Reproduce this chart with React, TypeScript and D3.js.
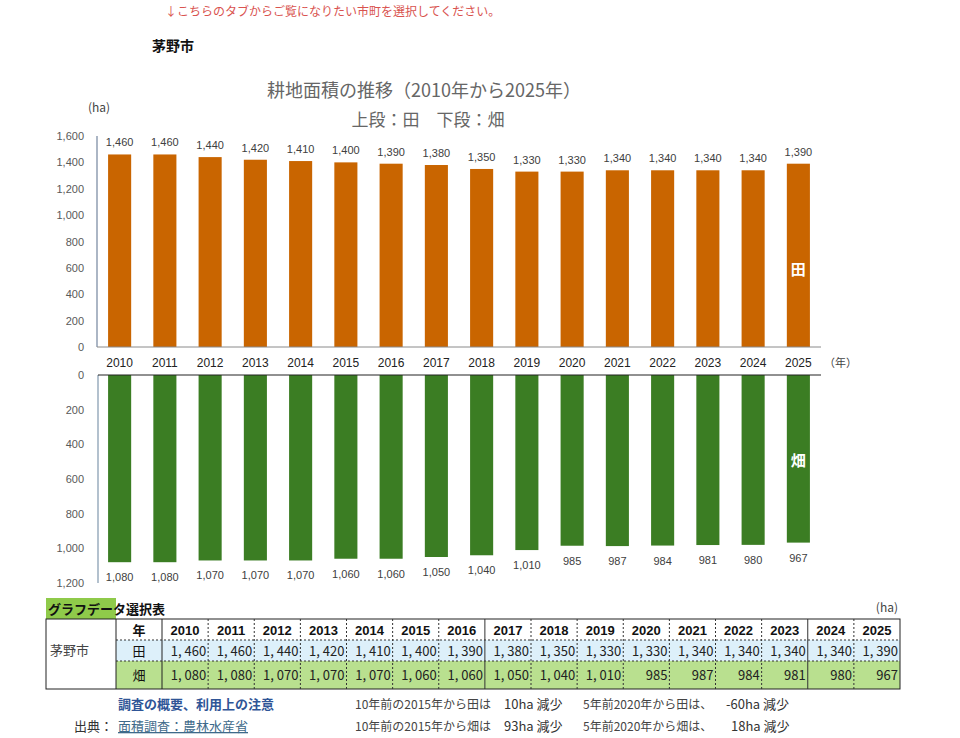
import * as d3 from 'd3';

const years = ['2010', '2011', '2012', '2013', '2014', '2015', '2016', '2017', '2018', '2019', '2020', '2021', '2022', '2023', '2024', '2025'];
const paddy = [1460, 1460, 1440, 1420, 1410, 1400, 1390, 1380, 1350, 1330, 1330, 1340, 1340, 1340, 1340, 1390];
const upland = [1080, 1080, 1070, 1070, 1070, 1060, 1060, 1050, 1040, 1010, 985, 987, 984, 981, 980, 967];
const topTicks = [0, 200, 400, 600, 800, 1000, 1200, 1400, 1600];
const bottomTicks = [0, 200, 400, 600, 800, 1000, 1200];

const W = 960;
const H = 738;
const JP = '"Noto Sans CJK JP", "Noto Sans", sans-serif';
const NUM = '"Liberation Sans", Arial, sans-serif';
const ORANGE = '#c96500';
const GREEN = '#3b7d23';

const fmt = d3.format(',');
// table style: full-width comma like the sheet
const fmtTable = (v: number) => (v >= 1000 ? d3.format(',')(v).replace(',', ', ') : String(v));

const App = () => {
    const x = d3.scaleBand().domain(years).range([97, 821]).paddingInner(0.49).paddingOuter(0.245);
    const yTop = d3.scaleLinear().domain([0, 1600]).range([347, 136]);
    const yBot = d3.scaleLinear().domain([0, 1200]).range([375, 583]);
    const col = d3.scaleBand().domain(years).range([162, 900]);

    return (
        <svg width={W} height={H} style={{ position: 'absolute', left: 0, top: 0, background: '#fff' }}>
            <text x={165} y={16} fontSize={12} fill="#d9534f" fontFamily={JP}>↓こちらのタブからご覧になりたい市町を選択してください。</text>
            <text x={152} y={51} fontSize={14} fontWeight="bold" fill="#111" fontFamily={JP}>茅野市</text>

            {/* titles */}
            <text x={424} y={97} fontSize={18} fill="#666" textAnchor="middle" fontFamily={JP}>耕地面積の推移（2010年から2025年）</text>
            <text x={428} y={126} fontSize={17} fill="#666" textAnchor="middle" fontFamily={JP}>上段：田　下段：畑</text>
            <text x={88} y={112} fontSize={12} fill="#444" fontFamily={JP}>(ha)</text>

            {/* upper chart: 田 */}
            {topTicks.map(t => (
                <text key={'tt' + t} x={84} y={yTop(t) + 4} fontSize={11} fill="#595959" textAnchor="end" fontFamily={NUM}>{fmt(t)}</text>
            ))}
            <line x1={97} x2={97} y1={136} y2={347} stroke="#7f8fa6" strokeWidth={1.3} />
            {years.map((yr, i) => (
                <g key={'p' + yr}>
                    <rect x={x(yr)} y={yTop(paddy[i])} width={x.bandwidth()} height={yTop(0) - yTop(paddy[i])} fill={ORANGE} />
                    <text x={(x(yr) || 0) + x.bandwidth() / 2} y={yTop(paddy[i]) - 8} fontSize={11} fill="#404040" textAnchor="middle" fontFamily={NUM}>{fmt(paddy[i])}</text>
                </g>
            ))}
            <line x1={97} x2={821} y1={347} y2={347} stroke="#8a8a8a" strokeWidth={1} />
            <text x={(x('2025') || 0) + x.bandwidth() / 2} y={275} fontSize={15} fontWeight="bold" fill="#fff" textAnchor="middle" fontFamily={JP}>田</text>

            {/* year labels */}
            {years.map(yr => (
                <text key={'yl' + yr} x={(x(yr) || 0) + x.bandwidth() / 2} y={367} fontSize={12} fill="#222" textAnchor="middle" fontFamily={NUM}>{yr}</text>
            ))}
            <text x={824} y={367} fontSize={11} fill="#444" fontFamily={JP}>（年）</text>

            {/* lower chart: 畑 */}
            {bottomTicks.map(t => (
                <text key={'bt' + t} x={84} y={yBot(t) + 4} fontSize={11} fill="#595959" textAnchor="end" fontFamily={NUM}>{fmt(t)}</text>
            ))}
            <line x1={98} x2={98} y1={375} y2={583} stroke="#8aa0b4" strokeWidth={1.3} />
            {years.map((yr, i) => (
                <g key={'u' + yr}>
                    <rect x={x(yr)} y={yBot(0)} width={x.bandwidth()} height={yBot(upland[i]) - yBot(0)} fill={GREEN} />
                    <text x={(x(yr) || 0) + x.bandwidth() / 2} y={yBot(upland[i]) + 19} fontSize={11} fill="#404040" textAnchor="middle" fontFamily={NUM}>{fmt(upland[i])}</text>
                </g>
            ))}
            <line x1={98} x2={821} y1={375} y2={375} stroke="#222" strokeWidth={1} />
            <text x={(x('2025') || 0) + x.bandwidth() / 2} y={466} fontSize={15} fontWeight="bold" fill="#fff" textAnchor="middle" fontFamily={JP}>畑</text>

            {/* data table */}
            <rect x={46} y={598} width={70} height={21} fill="#8fca4a" />
            <text x={48} y={614} fontSize={13} fontWeight="bold" fill="#111" fontFamily={JP}>グラフデータ選択表</text>
            <text x={898} y={612} fontSize={12} fill="#444" textAnchor="end" fontFamily={JP}>(ha)</text>

            <rect x={116} y={640} width={784} height={21} fill="#ddf0fa" />
            <rect x={116} y={661} width={784} height={28} fill="#b9e08f" />
            <rect x={46} y={619} width={854} height={70} fill="none" stroke="#222" strokeWidth={1} />
            <line x1={116} x2={116} y1={619} y2={689} stroke="#222" />
            <line x1={162} x2={162} y1={619} y2={689} stroke="#222" />
            <line x1={116} x2={900} y1={640} y2={640} stroke="#333" strokeDasharray="2,2" />
            <line x1={116} x2={900} y1={661} y2={661} stroke="#333" strokeDasharray="2,2" />
            {years.slice(1).map((yr, i) => (
                <line key={'cl' + yr} x1={col(yr)} x2={col(yr)} y1={619} y2={689} stroke="#333"
                    strokeDasharray={i === 6 || i === 13 ? undefined : '2,2'} />
            ))}
            <text x={50} y={655} fontSize={13} fill="#444" fontFamily={JP}>茅野市</text>
            <text x={139} y={635} fontSize={13} fontWeight="bold" fill="#111" textAnchor="middle" fontFamily={JP}>年</text>
            <text x={139} y={656} fontSize={13} fill="#111" textAnchor="middle" fontFamily={JP}>田</text>
            <text x={139} y={680} fontSize={13} fill="#111" textAnchor="middle" fontFamily={JP}>畑</text>
            {years.map((yr, i) => (
                <g key={'tc' + yr}>
                    <text x={(col(yr) || 0) + col.bandwidth() / 2} y={635} fontSize={13} fontWeight="bold" fill="#111" textAnchor="middle" fontFamily={NUM}>{yr}</text>
                    <text x={(col(yr) || 0) + col.bandwidth() - 2} y={656} fontSize={13} fill="#222" textAnchor="end" fontFamily={JP}>{fmtTable(paddy[i])}</text>
                    <text x={(col(yr) || 0) + col.bandwidth() - 2} y={680} fontSize={13} fill="#222" textAnchor="end" fontFamily={JP}>{fmtTable(upland[i])}</text>
                </g>
            ))}

            {/* notes */}
            <text x={118} y={709} fontSize={13} fontWeight="bold" fill="#2f5597" fontFamily={JP}>調査の概要、利用上の注意</text>
            <text x={74} y={731} fontSize={13} fill="#333" fontFamily={JP}>出典：</text>
            <text x={118} y={731} fontSize={13} fill="#3e6a8a" textDecoration="underline" fontFamily={JP}>面積調査：農林水産省</text>
            <text x={355} y={709} fontSize={12} fill="#444" fontFamily={JP}>10年前の2015年から田は</text>
            <text x={355} y={731} fontSize={12} fill="#444" fontFamily={JP}>10年前の2015年から畑は</text>
            <text x={504} y={709} fontSize={13} fill="#333" fontFamily={JP}>10ha 減少</text>
            <text x={504} y={731} fontSize={13} fill="#333" fontFamily={JP}>93ha 減少</text>
            <text x={583} y={709} fontSize={12} fill="#444" fontFamily={JP}>5年前2020年から田は、</text>
            <text x={583} y={731} fontSize={12} fill="#444" fontFamily={JP}>5年前2020年から畑は、</text>
            <text x={726} y={709} fontSize={13} fill="#333" fontFamily={JP}>-60ha 減少</text>
            <text x={731} y={731} fontSize={13} fill="#333" fontFamily={JP}>18ha 減少</text>
        </svg>
    );
};

export default App;
